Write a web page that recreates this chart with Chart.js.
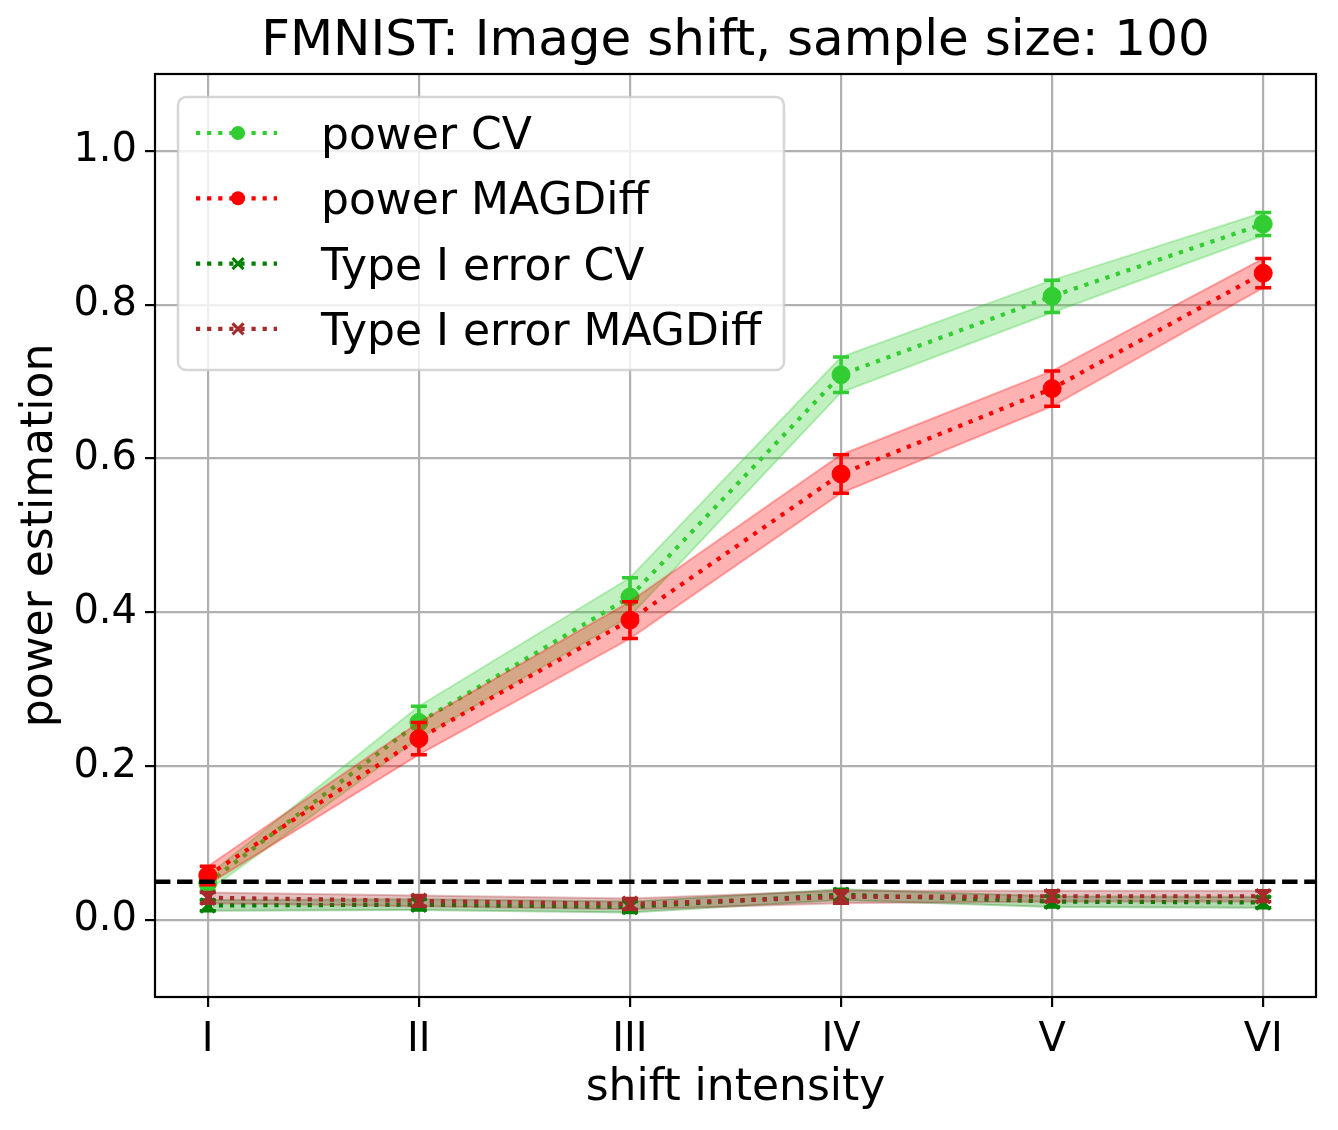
<!DOCTYPE html>
<html>
<head>
<meta charset="utf-8">
<style>
  html, body { margin: 0; padding: 0; background: #fff; }
  #wrap { width: 1338px; height: 1130px; }
</style>
<script src="https://cdn.jsdelivr.net/npm/chart.js@4.4.1/dist/chart.umd.min.js"></script>
</head>
<body>
<div id="wrap"><canvas id="chart" width="1338" height="1130"></canvas></div>
<script>
// --- Data ---

const shiftLabels = ['I', 'II', 'III', 'IV', 'V', 'VI'];
const yTicks = [0.0, 0.2, 0.4, 0.6, 0.8, 1.0];

const powerCV = [0.048, 0.257, 0.420, 0.709, 0.811, 0.905];
const powerCVErr = [0.010, 0.021, 0.025, 0.023, 0.021, 0.015];
const powerMAGDiff = [0.058, 0.236, 0.390, 0.580, 0.691, 0.841];
const powerMAGDiffErr = [0.012, 0.021, 0.024, 0.025, 0.023, 0.019];
const typeICV = [0.019, 0.020, 0.017, 0.033, 0.024, 0.023];
const typeICVErr = [0.007, 0.007, 0.007, 0.007, 0.007, 0.007];
const typeIMAGDiff = [0.029, 0.025, 0.021, 0.030, 0.031, 0.031];
const typeIMAGDiffErr = [0.007, 0.007, 0.007, 0.008, 0.007, 0.007];

const alphaLevel = 0.05;
const xMin = -0.25, xMax = 5.25;
const yMin = -0.1, yMax = 1.1;

// --- Styles ---

const xPos = shiftLabels.map((_, i) => i);

const series = [
  { label: 'power CV', values: powerCV, errors: powerCVErr,
    color: '#32cd32', band: 'rgba(50,205,50,0.3)', marker: 'circle' },
  { label: 'power MAGDiff', values: powerMAGDiff, errors: powerMAGDiffErr,
    color: '#ff0000', band: 'rgba(255,0,0,0.3)', marker: 'circle' },
  { label: 'Type I error CV', values: typeICV, errors: typeICVErr,
    color: '#008000', band: 'rgba(0,128,0,0.3)', marker: 'crossRot' },
  { label: 'Type I error MAGDiff', values: typeIMAGDiff, errors: typeIMAGDiffErr,
    color: '#a52a2a', band: 'rgba(165,42,42,0.3)', marker: 'crossRot' },
];

const DOT = [4.2, 6.9];

function toPoints(arr) {
  return arr.map((v, i) => ({ x: xPos[i], y: v }));
}

function buildDatasets() {
  const out = [];
  series.forEach(s => {
    out.push({
      data: toPoints(s.values.map((v, i) => v + s.errors[i])),
      borderColor: s.band, borderWidth: 2, pointRadius: 0, fill: false,
    });
    out.push({
      data: toPoints(s.values.map((v, i) => v - s.errors[i])),
      borderColor: s.band, borderWidth: 2, pointRadius: 0,
      fill: '-1', backgroundColor: s.band,
    });
    out.push({
      label: s.label,
      data: toPoints(s.values),
      errors: s.errors,
      borderColor: s.color,
      borderWidth: 4.2,
      borderDash: DOT,
      pointStyle: s.marker,
      pointRadius: s.marker === 'circle' ? 9 : 10,
      pointBackgroundColor: s.color,
      pointBorderColor: s.color,
      pointBorderWidth: s.marker === 'circle' ? 1 : 3.5,
      fill: false,
    });
  });
  // significance level reference line
  out.push({
    data: [{ x: xMin, y: alphaLevel }, { x: xMax, y: alphaLevel }],
    borderColor: '#000', borderWidth: 4.5, borderDash: [15.4, 6.7],
    pointRadius: 0, fill: false,
  });
  // later datasets drawn on top
  out.forEach((d, i) => { d.order = out.length - i; });
  return out;
}

// --- Plugins ---

const errorBars = {
  id: 'errorBars',
  afterDatasetDraw(chart, args) {
    const ds = chart.data.datasets[args.index];
    if (!ds.errors) return;
    const { ctx, scales: { x, y } } = chart;
    ctx.save();
    ctx.strokeStyle = ds.borderColor;
    ctx.lineWidth = 3.5;
    ds.data.forEach((p, i) => {
      const px = x.getPixelForValue(p.x);
      const top = y.getPixelForValue(p.y + ds.errors[i]);
      const bot = y.getPixelForValue(p.y - ds.errors[i]);
      ctx.beginPath();
      ctx.moveTo(px, top); ctx.lineTo(px, bot);
      ctx.moveTo(px - 8, top); ctx.lineTo(px + 8, top);
      ctx.moveTo(px - 8, bot); ctx.lineTo(px + 8, bot);
      ctx.stroke();
    });
    ctx.restore();
  },
};

const frame = {
  id: 'frame',
  afterDatasetsDraw(chart) {
    const { ctx, chartArea: a } = chart;
    ctx.save();
    ctx.strokeStyle = '#000';
    ctx.lineWidth = 2.2;
    ctx.strokeRect(a.left, a.top, a.right - a.left, a.bottom - a.top);
    ctx.restore();
  },
};

const boxLegend = {
  id: 'boxLegend',
  afterDraw(chart) {
    const ctx = chart.ctx;
    const box = { x: 178, y: 97, w: 606, h: 273 };
    ctx.save();
    ctx.beginPath();
    ctx.roundRect(box.x, box.y, box.w, box.h, 8);
    ctx.fillStyle = 'rgba(255,255,255,0.8)';
    ctx.fill();
    ctx.strokeStyle = 'rgba(204,204,204,0.8)';
    ctx.lineWidth = 2.5;
    ctx.stroke();

    series.forEach((s, i) => {
      const cy = 133 + i * 65.3;
      ctx.strokeStyle = s.color;
      ctx.lineWidth = 4.2;
      ctx.setLineDash(DOT);
      ctx.beginPath();
      ctx.moveTo(196, cy); ctx.lineTo(277, cy);
      ctx.stroke();
      ctx.setLineDash([]);
      const mx = 238;
      if (s.marker === 'circle') {
        ctx.fillStyle = s.color;
        ctx.beginPath();
        ctx.arc(mx, cy, 7, 0, Math.PI * 2);
        ctx.fill();
      } else {
        ctx.lineWidth = 3;
        ctx.beginPath();
        ctx.moveTo(mx - 5.5, cy - 5.5); ctx.lineTo(mx + 5.5, cy + 5.5);
        ctx.moveTo(mx + 5.5, cy - 5.5); ctx.lineTo(mx - 5.5, cy + 5.5);
        ctx.stroke();
      }
      ctx.fillStyle = '#000';
      ctx.font = '44px "DejaVu Sans"';
      ctx.textBaseline = 'alphabetic';
      ctx.textAlign = 'left';
      ctx.fillText(s.label, 321, cy + 16);
    });
    ctx.restore();
  },
};

// --- Chart ---

Chart.defaults.font.family = '"DejaVu Sans", sans-serif';
Chart.defaults.color = '#000';

const gridStyle = {
  color: '#b0b0b0', lineWidth: 2.2,
  tickColor: '#000', tickLength: 10, tickWidth: 2.2,
};

new Chart(document.getElementById('chart').getContext('2d'), {
  type: 'line',
  data: { datasets: buildDatasets() },
  plugins: [errorBars, frame, boxLegend],
  options: {
    responsive: false,
    devicePixelRatio: 1,
    animation: false,
    layout: { padding: { left: 0, right: 22, top: 0, bottom: 0 } },
    plugins: {
      legend: { display: false },
      tooltip: { enabled: false },
      title: {
        display: true,
        fullSize: false,
        text: 'FMNIST: Image shift, sample size: 100',
        font: { size: 50, weight: 'normal' },
        color: '#000',
        padding: { top: 12, bottom: 2 },
      },
    },
    scales: {
      x: {
        type: 'linear', min: xMin, max: xMax,
        afterBuildTicks: s => { s.ticks = xPos.map(v => ({ value: v })); },
        afterFit: s => { s.height = 133; },
        ticks: {
          callback: v => shiftLabels[v],
          font: { size: 40 }, color: '#000', padding: 10,
          maxRotation: 0, autoSkip: false,
        },
        grid: gridStyle,
        border: { display: false },
        title: {
          display: true, text: 'shift intensity', color: '#000',
          font: { size: 44 }, padding: { top: 0, bottom: 15 },
        },
      },
      y: {
        type: 'linear', min: yMin, max: yMax,
        afterBuildTicks: s => { s.ticks = yTicks.map(v => ({ value: v })); },
        afterFit: s => { s.width = 155; },
        ticks: {
          callback: v => v.toFixed(1),
          font: { size: 40 }, color: '#000', padding: 8,
        },
        grid: gridStyle,
        border: { display: false },
        title: {
          display: true, text: 'power estimation', color: '#000',
          font: { size: 44 }, padding: { top: 14, bottom: 0 },
        },
      },
    },
  },
});
</script>
</body>
</html>
